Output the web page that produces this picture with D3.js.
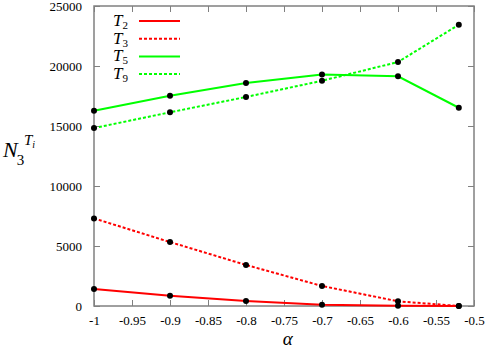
<!DOCTYPE html>
<meta charset="UTF-8">
<style>
body { margin: 0; background: #fff; }
svg text { font-family: "Liberation Serif", "DejaVu Serif", "Times New Roman", "Nimbus Roman", serif; }
.tick text { font-size: 13px; fill: #000; }
.line { fill: none; stroke-width: 2px; }
</style>
<body>
<script src="https://d3js.org/d3.v7.min.js"></script>
<script>

// alpha values on the x axis
var alpha = [-1, -0.9, -0.8, -0.7, -0.6, -0.52];

// series values
var T2 = [1420, 860, 420, 110, 20, 0];
var T3 = [7300, 5330, 3420, 1670, 390, 0];
var T5 = [16270, 17520, 18580, 19300, 19140, 16520];
var T9 = [14830, 16140, 17420, 18770, 20330, 23440];

var xTicks = [-1, -0.95, -0.9, -0.85, -0.8, -0.75, -0.7, -0.65, -0.6, -0.55, -0.5];
var yTicks = [0, 5000, 10000, 15000, 20000, 25000];

var series = [
  {name: "2", values: T2, color: "#ff0000", dash: null},
  {name: "3", values: T3, color: "#ff0000", dash: "3,2"},
  {name: "5", values: T5, color: "#00ff00", dash: null},
  {name: "9", values: T9, color: "#00ff00", dash: "3,2"}
];

var margin = {top: 6, right: 11, bottom: 44, left: 94},
    width = 485 - margin.left - margin.right,
    height = 350 - margin.top - margin.bottom;

var svg = d3.select("body").append("svg")
    .attr("width", 485)
    .attr("height", 350);

var g = svg.append("g")
    .attr("transform", "translate(" + margin.left + "," + margin.top + ")");

var x = d3.scaleLinear().domain([-1, -0.5]).range([0, width]);
var y = d3.scaleLinear().domain([0, 25000]).range([height, 0]);

// plain hyphen for negatives, like the original
var fmt = function(d) { return String(+d.toFixed(2)); };

// axes, ticks point inwards and mirror on top/right
g.append("g").attr("transform", "translate(0," + height + ")")
  .call(d3.axisBottom(x).tickValues(xTicks).tickSize(-6).tickPadding(10).tickFormat(fmt));
g.append("g")
  .call(d3.axisTop(x).tickValues(xTicks).tickSize(-6).tickFormat(""));
g.append("g")
  .call(d3.axisLeft(y).tickValues(yTicks).tickSize(-6).tickPadding(12).tickFormat(d3.format("d")));
g.append("g").attr("transform", "translate(" + width + ",0)")
  .call(d3.axisRight(y).tickValues(yTicks).tickSize(-6).tickFormat(""));

g.selectAll(".domain").remove();
g.selectAll("g").attr("font-family", null);
g.selectAll(".tick line").attr("stroke", "#808080").attr("stroke-width", 1);

g.append("rect")
  .attr("width", width).attr("height", height)
  .attr("fill", "none").attr("stroke", "#808080").attr("stroke-width", 1.5);

var line = d3.line()
  .x(function(d, i) { return x(alpha[i]); })
  .y(function(d) { return y(d); });

series.forEach(function(s) {
  g.append("path")
    .attr("class", "line")
    .attr("d", line(s.values))
    .attr("stroke", s.color)
    .attr("stroke-dasharray", s.dash);
});

series.forEach(function(s) {
  g.selectAll(null).data(s.values).enter().append("circle")
    .attr("cx", function(d, i) { return x(alpha[i]); })
    .attr("cy", function(d) { return y(d); })
    .attr("r", 3)
    .attr("fill", "#000");
});

// legend
var legend = svg.append("g");
series.forEach(function(s, i) {
  var ly = 21 + i * 17.7;
  var t = legend.append("text")
    .attr("x", 113).attr("y", ly + 5)
    .style("font-size", "17px").style("font-style", "italic");
  t.append("tspan").text("T");
  t.append("tspan").attr("dy", 3).style("font-size", "11px").style("font-style", "normal").text(s.name);
  legend.append("line")
    .attr("x1", 139).attr("x2", 180).attr("y1", ly).attr("y2", ly)
    .attr("stroke", s.color).attr("stroke-width", 2)
    .attr("stroke-dasharray", s.dash);
});

// y axis label N_3^{T_i}
var yl = svg.append("text")
  .attr("x", 3).attr("y", 157)
  .style("font-size", "22px").style("font-style", "italic");
yl.append("tspan").text("N");
yl.append("tspan").attr("dy", 8).attr("dx", -1).style("font-size", "15px").style("font-style", "normal").text("3");
yl.append("tspan").attr("x", 24).attr("y", 145).style("font-size", "15px").text("T");
yl.append("tspan").attr("dy", 3).style("font-size", "10px").text("i");

// x axis label
svg.append("text")
  .attr("x", margin.left + x(-0.745)).attr("y", 345)
  .attr("text-anchor", "middle")
  .style("font-size", "19px").style("font-style", "italic")
  .text("α");

</script>
</body>
